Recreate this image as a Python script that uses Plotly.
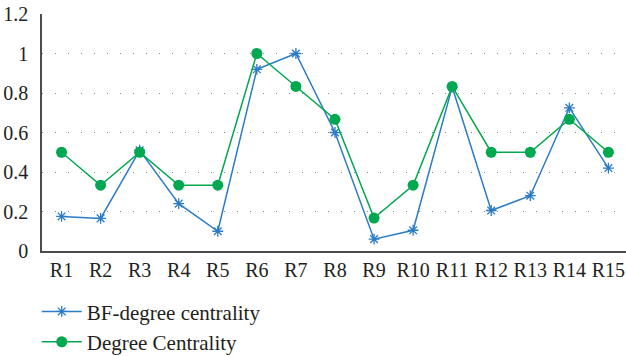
import plotly.graph_objects as go

categories = ["R1", "R2", "R3", "R4", "R5", "R6", "R7", "R8", "R9", "R10", "R11", "R12", "R13", "R14", "R15"]
bf_degree = [0.175, 0.165, 0.51, 0.24, 0.10, 0.92, 1.0, 0.60, 0.06, 0.105, 0.83, 0.205, 0.28, 0.725, 0.42]
degree_centrality = [0.5, 0.333, 0.5, 0.333, 0.333, 1.0, 0.833, 0.667, 0.167, 0.333, 0.833, 0.5, 0.5, 0.667, 0.5]
y_ticks = [0, 0.2, 0.4, 0.6, 0.8, 1, 1.2]

BLUE = "#2b7bc6"
GREEN = "#00a84f"
FONT = "Liberation Serif"

fig = go.Figure()
fig.add_trace(go.Scatter(
    x=categories, y=bf_degree, name="BF-degree centrality",
    mode="lines+markers",
    line=dict(color=BLUE, width=1.5),
    marker=dict(symbol="asterisk-open", size=9, color=BLUE, line=dict(color=BLUE, width=1.3)),
))
fig.add_trace(go.Scatter(
    x=categories, y=degree_centrality, name="Degree Centrality",
    mode="lines+markers",
    line=dict(color=GREEN, width=1.5),
    marker=dict(symbol="circle", size=11, color=GREEN),
))

fig.update_layout(
    width=626, height=356,
    margin=dict(l=42, r=0, t=14, b=105, pad=0, autoexpand=False),
    paper_bgcolor="white", plot_bgcolor="white",
    font=dict(family=FONT, size=20, color="#231f20"),
    showlegend=True,
    legend=dict(
        orientation="v", x=-0.009, xanchor="left", y=-0.17, yanchor="top",
        font=dict(family=FONT, size=21, color="#231f20"),
        bgcolor="rgba(0,0,0,0)", tracegroupgap=0, itemwidth=40,
    ),
    xaxis=dict(
        type="category", range=[-0.5, 14.45], automargin=False,
        showline=True, linecolor="#4d4d4d", linewidth=1.5,
        showgrid=False, ticks="", tickfont=dict(family=FONT, size=20),
    ),
    yaxis=dict(
        range=[0, 1.2], tickvals=y_ticks, ticktext=[str(v) for v in y_ticks], automargin=False,
        showline=True, linecolor="#4d4d4d", linewidth=1.5,
        showgrid=True, gridcolor="#8c8c8c", griddash="1px,12px", gridwidth=1.3,
        zeroline=False, ticks="", ticklabelstandoff=8, tickfont=dict(family=FONT, size=20),
    ),
)

fig.write_html("out.html", config={"displayModeBar": False},
               post_script="document.body.style.margin='0';")
